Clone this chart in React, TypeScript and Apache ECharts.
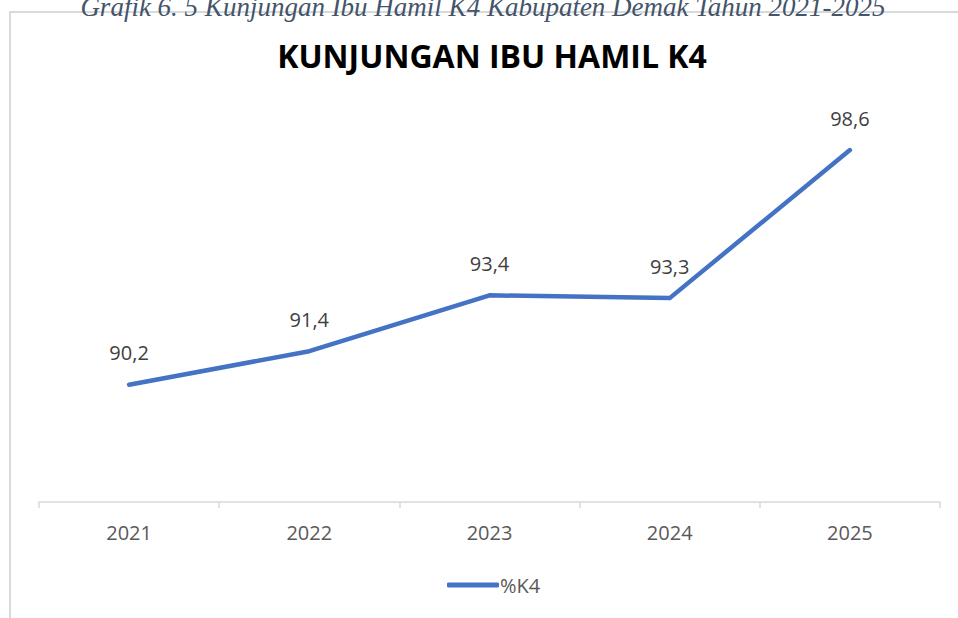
import React, { useEffect, useRef } from "react";
import * as echarts from "echarts";

const categories = ["2021", "2022", "2023", "2024", "2025"];
const k4Values = [90.2, 91.4, 93.4, 93.3, 98.6];
const seriesName = "%K4";
const chartTitle = "KUNJUNGAN IBU HAMIL K4";
const caption = "Grafik 6. 5 Kunjungan Ibu Hamil K4 Kabupaten Demak Tahun 2021-2025";

export default function App() {
  const ref = useRef<HTMLDivElement>(null);
  useEffect(() => {
    document.body.style.margin = "0";
    const chart = echarts.init(ref.current!, null, { renderer: "svg" });
    chart.setOption({
      animation: false,
      backgroundColor: "#ffffff",
      title: {
        text: chartTitle,
        left: 487,
        textAlign: "center",
        top: 34,
        textStyle: {
          fontFamily: "Open Sans",
          fontWeight: "bold",
          fontSize: 32,
          color: "#000000",
        },
      },
      graphic: [
        {
          type: "rect",
          shape: { x: 10, y: 12, width: 980, height: 640 },
          style: { fill: "none", stroke: "#d9d9d9", lineWidth: 2 },
          silent: true,
        },
        {
          type: "text",
          x: 483,
          y: 20,
          style: {
            text: caption,
            fontFamily: "Liberation Serif",
            fontStyle: "italic",
            fontSize: 27,
            fill: "#44546a",
            align: "center",
            verticalAlign: "bottom",
          },
          silent: true,
        },
      ],
      legend: {
        data: [seriesName],
        left: 442,
        top: 570,
        icon: "roundRect",
        itemWidth: 52,
        itemHeight: 5,
        itemGap: 10,
        itemStyle: { color: "#4472c4", opacity: 1 },
        textStyle: { fontFamily: "Open Sans", fontSize: 20, color: "#595959", padding: [0, 0, 0, -4] },
      },
      grid: { left: 39, right: 18, top: 111, bottom: 116 },
      xAxis: {
        type: "category",
        data: categories,
        boundaryGap: true,
        axisLine: { show: true, lineStyle: { color: "#d9d9d9", width: 1.5 } },
        axisTick: { show: true, length: 6, lineStyle: { color: "#d9d9d9", width: 1.5 } },
        axisLabel: {
          fontFamily: "Open Sans",
          fontSize: 20,
          color: "#595959",
          margin: 20,
        },
        splitLine: { show: false },
      },
      yAxis: {
        type: "value",
        min: 86,
        max: 100,
        show: false,
        splitLine: { show: false },
      },
      series: [
        {
          name: seriesName,
          type: "line",
          data: k4Values,
          symbol: "circle",
          symbolSize: 0.01,
          showSymbol: true,
          lineStyle: { color: "#4472c4", width: 4.5, cap: "round", join: "round" },
          itemStyle: { color: "#4472c4" },
          label: {
            show: true,
            position: "top",
            distance: 22,
            fontFamily: "Open Sans",
            fontSize: 20,
            color: "#404040",
            opacity: 1,
            formatter: (p: any) => String(p.value).replace(".", ","),
          },
        },
      ],
    });
    return () => chart.dispose();
  }, []);
  return (
    <div
      ref={ref}
      style={{ position: "absolute", left: 0, top: 0, width: 958, height: 618 }}
    />
  );
}
